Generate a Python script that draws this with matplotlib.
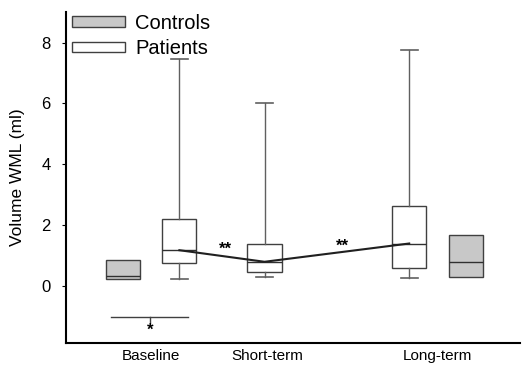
import matplotlib
matplotlib.use('Agg')
import matplotlib.pyplot as plt
from matplotlib.patches import Patch

plt.rcParams['font.family'] = ['Liberation Sans', 'DejaVu Sans']

# box statistics (ml)
groups = ['Controls', 'Patients', 'Patients', 'Patients', 'Controls']
positions = [1.0, 2.0, 3.5, 6.05, 7.05]
q1 = [0.22, 0.75, 0.46, 0.60, 0.30]
med = [0.33, 1.18, 0.80, 1.40, 0.79]
q3 = [0.85, 2.20, 1.40, 2.62, 1.67]
whislo = [0.22, 0.23, 0.30, 0.26, 0.30]
whishi = [0.85, 7.45, 6.00, 7.77, 1.67]

tick_pos = [1.5, 3.55, 6.55]
tick_labels = ['Baseline', 'Short-term', 'Long-term']

fills = {'Controls': '#c8c8c8', 'Patients': 'white'}

fig = plt.figure(figsize=(5.23, 3.65), dpi=100)
ax = fig.add_axes([0.126, 0.06, 0.868, 0.907])

stats = []
for i in range(len(positions)):
    stats.append({'q1': q1[i], 'med': med[i], 'q3': q3[i],
                  'whislo': whislo[i], 'whishi': whishi[i], 'fliers': []})

bp = ax.bxp(stats, positions=positions, widths=0.6, patch_artist=True,
            showfliers=False,
            boxprops=dict(edgecolor='#404040', linewidth=1.0),
            medianprops=dict(color='#303030', linewidth=1.0),
            whiskerprops=dict(color='#606060', linewidth=1.0),
            capprops=dict(color='#606060', linewidth=1.2))
for box, g in zip(bp['boxes'], groups):
    box.set_facecolor(fills[g])
for i, g in enumerate(groups):
    if g == 'Controls':
        for item in bp['caps'][2*i:2*i+2] + bp['whiskers'][2*i:2*i+2]:
            item.set_visible(False)

# line through patient medians
pat = [i for i, g in enumerate(groups) if g == 'Patients']
ax.plot([positions[i] for i in pat], [med[i] for i in pat],
        color='#202020', linewidth=1.5, zorder=5)

# significance marks
ax.text(2.82, 1.2, '**', ha='center', va='center', fontsize=12, fontweight='bold')
ax.text(4.88, 1.32, '**', ha='center', va='center', fontsize=12, fontweight='bold')
ax.plot([0.8, 2.15], [-1.0, -1.0], color='#404040', linewidth=1.0)
ax.plot([1.48, 1.48], [-1.0, -1.18], color='#404040', linewidth=1.0)
ax.text(1.48, -1.45, '*', ha='center', va='center', fontsize=12, fontweight='bold')

ax.set_xlim(0, 8)
ax.set_ylim(-1.87, 9.0)
ax.set_yticks([0, 2, 4, 6, 8])
ax.set_xticks(tick_pos)
ax.set_xticklabels(tick_labels, fontsize=11)
ax.tick_params(axis='x', length=0, pad=4)
ax.tick_params(axis='y', labelsize=12, length=3, pad=8)
ax.set_ylabel('Volume WML (ml)', fontsize=12.5, labelpad=12)

for s in ['top', 'right']:
    ax.spines[s].set_visible(False)
for s in ['left', 'bottom']:
    ax.spines[s].set_linewidth(1.5)

handles = [Patch(facecolor=fills['Controls'], edgecolor='#404040', label='Controls'),
           Patch(facecolor=fills['Patients'], edgecolor='#404040', label='Patients')]
ax.legend(handles=handles, loc='upper left', bbox_to_anchor=(0.01, 1.0),
          fontsize=14.5, frameon=False,
          handlelength=2.6, handleheight=0.45, handletextpad=0.5,
          borderaxespad=0.0, borderpad=0.1, labelspacing=0.3)

fig.savefig('out.png', dpi=100)
